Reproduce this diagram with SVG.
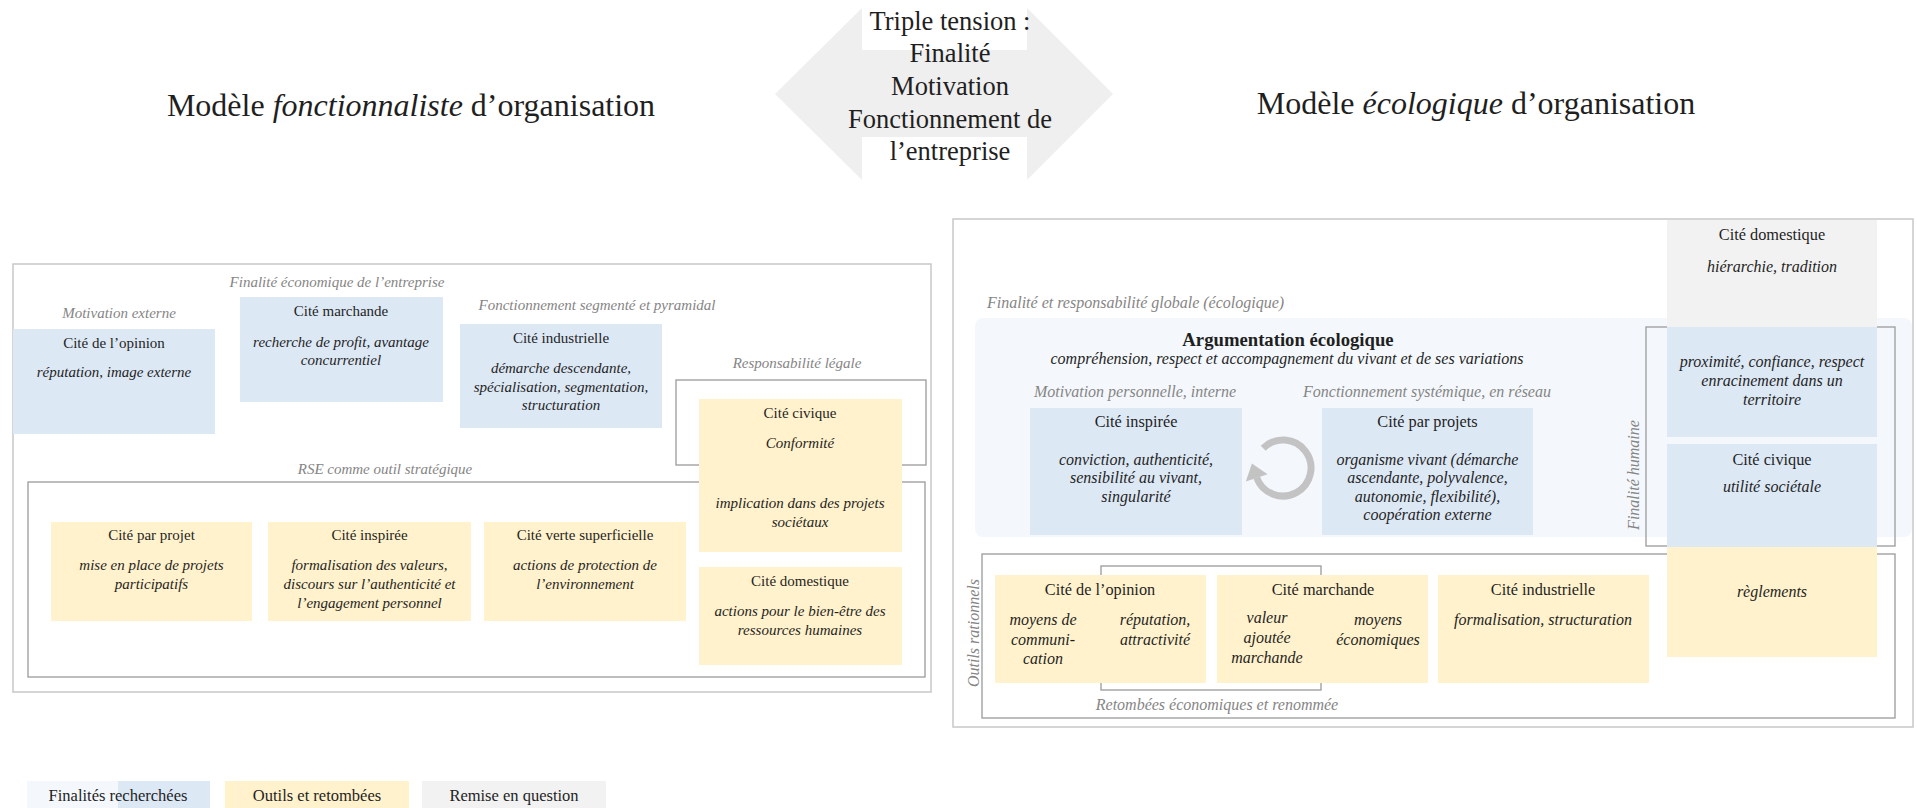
<svg xmlns="http://www.w3.org/2000/svg" width="1917" height="808" viewBox="0 0 1917 808">
<style>
text { font-family: "Liberation Serif", "Times New Roman", serif; fill: #1f1f1f; }
.t { font-size: 15px; text-anchor: middle; }
.s { font-size: 15px; font-style: italic; text-anchor: middle; }
.lbl { font-size: 15px; font-style: italic; fill: #858585; text-anchor: middle; }
.rt { font-size: 16.3px; text-anchor: middle; }
.rs { font-size: 16px; font-style: italic; text-anchor: middle; }
.rl { font-size: 16px; font-style: italic; fill: #858585; text-anchor: middle; }
.blue { fill: #dde8f5; }
.yel { fill: #fff2cc; }
.gry { fill: #f2f2f2; }
.outer { fill: none; stroke: #c8c8c8; stroke-width: 1.5; }
.inner { fill: none; stroke: #9a9a9a; stroke-width: 1.3; }
.title { font-size: 32px; text-anchor: middle; }
.big { font-size: 26.5px; text-anchor: middle; }
.leg { font-size: 16.5px; text-anchor: middle; }
</style>
<rect x="0" y="0" width="1917" height="808" fill="#ffffff"/>

<!-- central double arrow -->
<g id="tension">
  <polygon points="775,94 862,8 862,50 1027,50 1027,8 1113,94 1027,180 1027,137 862,137 862,180" fill="#efefef"/>
  <text class="big" x="950" y="30">Triple tension :</text>
  <text class="big" x="950" y="62">Finalité</text>
  <text class="big" x="950" y="95">Motivation</text>
  <text class="big" x="950" y="128">Fonctionnement de</text>
  <text class="big" x="950" y="160">l’entreprise</text>
</g>

<text class="title" x="411" y="116">Modèle <tspan font-style="italic">fonctionnaliste</tspan> d’organisation</text>
<text class="title" x="1476" y="114">Modèle <tspan font-style="italic">écologique</tspan> d’organisation</text>

<!-- LEFT PANEL -->
<g id="left-panel">
  <rect class="outer" x="13" y="264" width="918" height="428"/>
  <text class="lbl" x="337" y="287">Finalité économique de l’entreprise</text>
  <text class="lbl" x="119" y="318">Motivation externe</text>
  <text class="lbl" x="597" y="310">Fonctionnement segmenté et pyramidal</text>
  <text class="lbl" x="797" y="368">Responsabilité légale</text>
  <text class="lbl" x="385" y="474">RSE comme outil stratégique</text>
  <rect class="inner" x="676" y="380" width="250" height="85"/>
  <rect class="inner" x="28" y="482" width="897" height="195"/>
</g>

<g id="l-opinion">
  <rect class="blue" x="13" y="329" width="202" height="105"/>
  <text class="t" x="114" y="348">Cité de l’opinion</text>
  <text class="s" x="114" y="377">réputation, image externe</text>
</g>
<g id="l-marchande">
  <rect class="blue" x="240" y="297" width="203" height="105"/>
  <text class="t" x="341" y="316">Cité marchande</text>
  <text class="s" x="341" y="347">recherche de profit, avantage</text>
  <text class="s" x="341" y="365">concurrentiel</text>
</g>
<g id="l-industrielle">
  <rect class="blue" x="460" y="324" width="202" height="104"/>
  <text class="t" x="561" y="343">Cité industrielle</text>
  <text class="s" x="561" y="373">démarche descendante,</text>
  <text class="s" x="561" y="392">spécialisation, segmentation,</text>
  <text class="s" x="561" y="410">structuration</text>
</g>
<g id="l-civique">
  <rect class="yel" x="699" y="399" width="203" height="153"/>
  <text class="t" x="800" y="418">Cité civique</text>
  <text class="s" x="800" y="448">Conformité</text>
  <text class="s" x="800" y="508">implication dans des projets</text>
  <text class="s" x="800" y="527">sociétaux</text>
</g>
<g id="l-projet">
  <rect class="yel" x="51" y="522" width="201" height="99"/>
  <text class="t" x="151.5" y="540">Cité par projet</text>
  <text class="s" x="151.5" y="570">mise en place de projets</text>
  <text class="s" x="151.5" y="589">participatifs</text>
</g>
<g id="l-inspiree">
  <rect class="yel" x="268" y="522" width="203" height="99"/>
  <text class="t" x="369.5" y="540">Cité inspirée</text>
  <text class="s" x="369.5" y="570">formalisation des valeurs,</text>
  <text class="s" x="369.5" y="589">discours sur l’authenticité et</text>
  <text class="s" x="369.5" y="608">l’engagement personnel</text>
</g>
<g id="l-verte">
  <rect class="yel" x="484" y="522" width="202" height="99"/>
  <text class="t" x="585" y="540">Cité verte superficielle</text>
  <text class="s" x="585" y="570">actions de protection de</text>
  <text class="s" x="585" y="589">l’environnement</text>
</g>
<g id="l-domestique">
  <rect class="yel" x="699" y="567" width="203" height="98"/>
  <text class="t" x="800" y="586">Cité domestique</text>
  <text class="s" x="800" y="616">actions pour le bien-être des</text>
  <text class="s" x="800" y="635">ressources humaines</text>
</g>

<!-- RIGHT PANEL -->
<g id="right-panel">
  <rect class="outer" x="953" y="219" width="960" height="508"/>
  <text class="rl" x="987" y="308" style="text-anchor:start">Finalité et responsabilité globale (écologique)</text>
  <rect x="975" y="318" width="937" height="219" rx="8" fill="#f4f8fc"/>
  <rect class="inner" x="1646" y="327" width="249" height="219"/>
  <text class="rl" x="1639" y="475" font-size="16.5" transform="rotate(-90 1639 475)">Finalité humaine</text>
  <rect class="inner" x="982" y="554" width="913" height="164"/>
  <text class="rl" x="979" y="633" font-size="17.5" transform="rotate(-90 979 633)">Outils rationnels</text>
  <rect class="inner" x="1101" y="566" width="220" height="124"/>
  <text class="rl" x="1217" y="710">Retombées économiques et renommée</text>
</g>

<g id="argumentation">
  <text x="1288" y="346" font-size="18.7" font-weight="bold" text-anchor="middle">Argumentation écologique</text>
  <text class="rs" x="1287" y="364" font-size="16.4">compréhension, respect et accompagnement du vivant et de ses variations</text>
  <text class="rl" x="1135" y="397">Motivation personnelle, interne</text>
  <text class="rl" x="1427" y="397">Fonctionnement systémique, en réseau</text>
</g>

<g id="r-inspiree">
  <rect class="blue" x="1030" y="408" width="212" height="127"/>
  <text class="rt" x="1136" y="427">Cité inspirée</text>
  <text class="rs" x="1136" y="465">conviction, authenticité,</text>
  <text class="rs" x="1136" y="483">sensibilité au vivant,</text>
  <text class="rs" x="1136" y="502">singularité</text>
</g>
<g id="r-projets">
  <rect class="blue" x="1322" y="408" width="211" height="127"/>
  <text class="rt" x="1427.5" y="427">Cité par projets</text>
  <text class="rs" x="1427.5" y="465">organisme vivant (démarche</text>
  <text class="rs" x="1427.5" y="483">ascendante, polyvalence,</text>
  <text class="rs" x="1427.5" y="502">autonomie, flexibilité),</text>
  <text class="rs" x="1427.5" y="520">coopération externe</text>
</g>
<g id="r-domestique">
  <rect class="gry" x="1667" y="220" width="210" height="107"/>
  <rect class="blue" x="1667" y="327" width="210" height="110"/>
  <text class="rt" x="1772" y="240">Cité domestique</text>
  <text class="rs" x="1772" y="272">hiérarchie, tradition</text>
  <text class="rs" x="1772" y="367">proximité, confiance, respect</text>
  <text class="rs" x="1772" y="386">enracinement dans un</text>
  <text class="rs" x="1772" y="405">territoire</text>
</g>
<g id="r-civique">
  <rect class="blue" x="1667" y="444" width="210" height="103"/>
  <rect class="yel" x="1667" y="547" width="210" height="110"/>
  <text class="rt" x="1772" y="465">Cité civique</text>
  <text class="rs" x="1772" y="492">utilité sociétale</text>
  <text class="rs" x="1772" y="597">règlements</text>
</g>
<g id="r-opinion">
  <rect class="yel" x="995" y="575" width="211" height="108"/>
  <text class="rt" x="1100" y="595">Cité de l’opinion</text>
  <text class="rs" x="1043" y="625">moyens de</text>
  <text class="rs" x="1043" y="645">communi-</text>
  <text class="rs" x="1043" y="664">cation</text>
  <text class="rs" x="1155" y="625">réputation,</text>
  <text class="rs" x="1155" y="645">attractivité</text>
</g>
<g id="r-marchande">
  <rect class="yel" x="1217" y="575" width="211" height="108"/>
  <text class="rt" x="1323" y="595">Cité marchande</text>
  <text class="rs" x="1267" y="623">valeur</text>
  <text class="rs" x="1267" y="643">ajoutée</text>
  <text class="rs" x="1267" y="663">marchande</text>
  <text class="rs" x="1378" y="625">moyens</text>
  <text class="rs" x="1378" y="645">économiques</text>
</g>
<g id="r-industrielle">
  <rect class="yel" x="1438" y="575" width="211" height="108"/>
  <text class="rt" x="1543" y="595">Cité industrielle</text>
  <text class="rs" x="1543" y="625">formalisation, structuration</text>
</g>

<g id="connectors">
  <path d="M 1263.2 448.2 A 28 28 0 1 1 1256.7 477.6" fill="none" stroke="#c3c3c3" stroke-width="7"/>
  <polygon points="1251.9,463.4 1245.8,481.5 1267.6,474.2" fill="#c3c3c3"/>
</g>

<g id="legend">
  <rect x="27" y="781" width="91" height="27" fill="#f4f8fc"/>
  <rect x="118" y="781" width="92" height="27" fill="#dde8f5"/>
  <text class="leg" x="118" y="801">Finalités recherchées</text>
  <rect class="yel" x="225" y="781" width="184" height="27"/>
  <text class="leg" x="317" y="801">Outils et retombées</text>
  <rect class="gry" x="422" y="781" width="184" height="27"/>
  <text class="leg" x="514" y="801">Remise en question</text>
</g>
</svg>
